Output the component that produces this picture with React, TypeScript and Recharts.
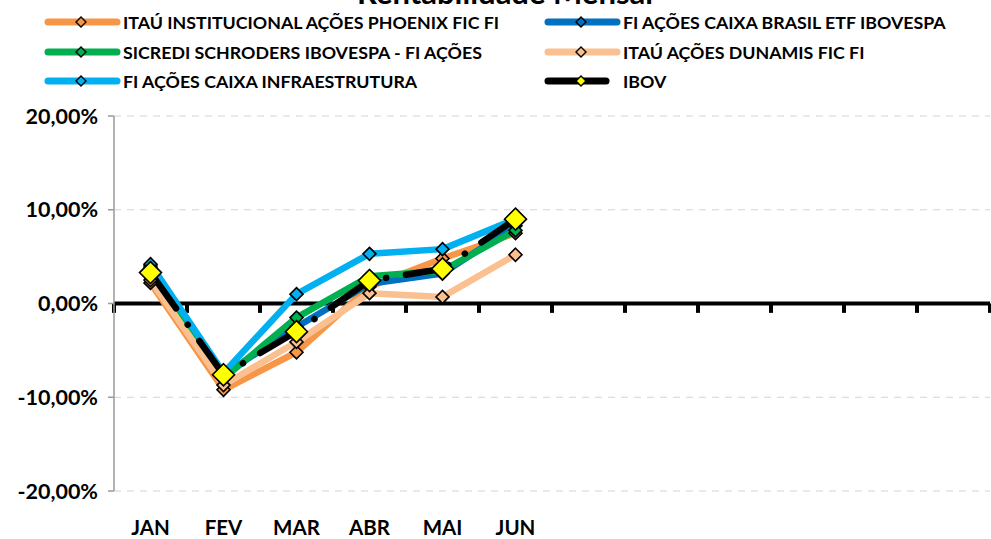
import { LineChart, Line, XAxis, YAxis, CartesianGrid, ReferenceLine } from 'recharts';

// month labels (only the first semester has data)
const months = ['JAN', 'FEV', 'MAR', 'ABR', 'MAI', 'JUN', '', '', '', '', '', ''];

// monthly returns in %
const phoenix = [2.2, -9.2, -5.2, 1.8, 4.8, 7.5];
const caixaBrasil = [4.0, -7.6, -2.5, 2.1, 3.2, 8.3];
const sicredi = [3.8, -8.0, -1.5, 2.9, 3.5, 7.8];
const dunamis = [2.5, -8.7, -4.1, 1.1, 0.7, 5.2];
const infra = [4.2, -7.4, 1.0, 5.3, 5.8, 9.0];
const ibov = [3.3, -7.6, -3.0, 2.45, 3.7, 9.0];

const yTicks = [-20, -10, 0, 10, 20];
// month slots: each month sits in the middle of its slot, tick marks on the slot edges
const slotEdges = months.map((_, i) => i).concat(months.length);
const slotCenters = months.map((_, i) => i + 0.5);

const FONT = 'Lato, "Open Sans", sans-serif';

const series = [
  { key: 'phoenix', name: 'ITAÚ INSTITUCIONAL AÇÕES PHOENIX FIC FI', color: '#F79646', values: phoenix },
  { key: 'caixaBrasil', name: 'FI AÇÕES CAIXA BRASIL ETF IBOVESPA', color: '#0070C0', values: caixaBrasil },
  { key: 'sicredi', name: 'SICREDI SCHRODERS IBOVESPA - FI AÇÕES', color: '#00B050', values: sicredi },
  { key: 'dunamis', name: 'ITAÚ AÇÕES DUNAMIS FIC FI', color: '#FAC090', values: dunamis },
  { key: 'infra', name: 'FI AÇÕES CAIXA INFRAESTRUTURA', color: '#00B0F0', values: infra },
  { key: 'ibov', name: 'IBOV', color: '#000000', values: ibov },
];

const data = months.map((month, i) => {
  const row: Record<string, any> = { month, slot: slotCenters[i] };
  series.forEach((s) => {
    row[s.key] = s.values[i] ?? null;
  });
  return row;
});

const fmtPct = (v: number) => `${v.toFixed(2).replace('.', ',')}%`;
const fmtMonth = (v: number) => months[Math.floor(v)] ?? '';

const diamond = (r: number, fill: string) => (props: any) => {
  const { cx, cy, index, value } = props;
  if (cx == null || cy == null || value == null) return <g key={index} />;
  return (
    <path
      key={index}
      d={`M${cx},${cy - r}L${cx + r},${cy}L${cx},${cy + r}L${cx - r},${cy}Z`}
      fill={fill}
      stroke="#000"
      strokeWidth={1.6}
    />
  );
};

function LegendBox() {
  return (
    <div style={{ position: 'absolute', left: 0, top: 0, width: 991, fontFamily: FONT }}>
      {series.map((s, i) => {
        const col = i % 2;
        const row = Math.floor(i / 2);
        const isIbov = s.key === 'ibov';
        const lineEnd = isIbov ? 62 : 73;
        return (
          <div
            key={s.key}
            style={{
              position: 'absolute',
              left: col === 0 ? 44 : 544,
              top: 22 + row * 29.5 - 11,
              height: 22,
              display: 'flex',
              alignItems: 'center',
              whiteSpace: 'nowrap',
            }}
          >
            <svg width={78} height={22}>
              <line x1={4} y1={11} x2={lineEnd} y2={11} stroke={s.color} strokeWidth={7} strokeLinecap="round" />
              <path
                d="M37,6L42,11L37,16L32,11Z"
                fill={isIbov ? '#FFFF00' : s.color}
                stroke="#000"
                strokeWidth={1.4}
              />
            </svg>
            <span style={{ fontSize: 17.8, fontWeight: 700, color: '#000', marginLeft: 1 }}>{s.name}</span>
          </div>
        );
      })}
    </div>
  );
}

export default function App() {
  return (
    <div style={{ position: 'absolute', left: 0, top: 0, width: 991, height: 539, background: '#fff', overflow: 'hidden' }}>
      <div
        style={{
          position: 'absolute',
          left: 0,
          width: 1010,
          top: -27,
          textAlign: 'center',
          fontFamily: FONT,
          fontWeight: 700,
          fontSize: 31,
          color: '#000',
        }}
      >
        Rentabilidade Mensal
      </div>
      <LineChart width={991} height={539} data={data} margin={{ top: 116, right: 1, bottom: 0, left: 0 }}>
        <CartesianGrid vertical={false} stroke="#d4d4d4" strokeDasharray="7 6" />
        <XAxis
          dataKey="slot"
          type="number"
          domain={[0, months.length]}
          allowDataOverflow
          ticks={slotCenters}
          tickFormatter={fmtMonth}
          interval={0}
          axisLine={false}
          tickLine={false}
          tickSize={0}
          tickMargin={29}
          height={48}
          tick={{ fill: '#000', fontSize: 20.5, fontWeight: 700, fontFamily: FONT }}
        />
        <YAxis
          domain={[-20, 20]}
          ticks={yTicks}
          width={114}
          tickFormatter={fmtPct}
          axisLine={{ stroke: '#9a9a9a', strokeWidth: 1.5 }}
          tickLine={{ stroke: '#9a9a9a', strokeWidth: 1.5 }}
          tickSize={6}
          tickMargin={10}
          tick={{ fill: '#000', fontSize: 21.5, fontWeight: 700, fontFamily: FONT }}
        />
        <ReferenceLine y={0} stroke="#000" strokeWidth={4} />
        {slotEdges.map((e) => (
          <ReferenceLine
            key={e}
            segment={[
              { x: e, y: 0 },
              { x: e, y: -1 },
            ]}
            stroke="#000"
            strokeWidth={4}
          />
        ))}
        {series.map((s) =>
          s.key === 'ibov' ? (
            <Line
              key={s.key}
              dataKey={s.key}
              name={s.name}
              stroke="#000"
              strokeWidth={6.5}
              strokeDasharray="44 20 0.1 20"
              strokeLinecap="round"
              dot={diamond(11, '#FFFF00')}
              activeDot={false}
              isAnimationActive={false}
            />
          ) : (
            <Line
              key={s.key}
              dataKey={s.key}
              name={s.name}
              stroke={s.color}
              strokeWidth={6.5}
              strokeLinejoin="round"
              dot={diamond(6.5, s.color)}
              activeDot={false}
              isAnimationActive={false}
            />
          )
        )}
      </LineChart>
      <LegendBox />
    </div>
  );
}
